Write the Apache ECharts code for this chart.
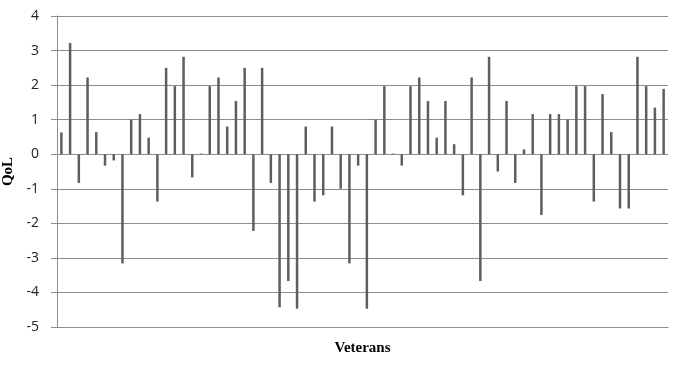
<!DOCTYPE html>
<html>
<head>
<meta charset="utf-8">
<script src="https://cdn.jsdelivr.net/npm/echarts@6/dist/echarts.min.js"></script>
<style>
  html, body { margin: 0; padding: 0; background: #fff; }
  #chart { width: 682px; height: 367px; }
</style>
</head>
<body>
<div id="chart"></div>
<script>
// QoL score per veteran
const qol = [
  0.63, 3.22, -0.83, 2.22, 0.64, -0.33, -0.18, -3.16, 1.0, 1.16,
  0.48, -1.37, 2.5, 1.97, 2.82, -0.67, 0.02, 1.97, 2.22, 0.8,
  1.54, 2.5, -2.22, 2.5, -0.83, -4.43, -3.67, -4.47, 0.8, -1.37,
  -1.19, 0.8, -1.0, -3.16, -0.33, -4.47, 1.0, 1.97, 0.02, -0.33,
  1.97, 2.22, 1.54, 0.48, 1.54, 0.29, -1.19, 2.22, -3.67, 2.82,
  -0.5, 1.54, -0.83, 0.14, 1.16, -1.76, 1.16, 1.16, 1.0, 1.97,
  1.97, -1.37, 1.74, 0.64, -1.57, -1.57, 2.82, 1.97, 1.35, 1.89
];
const veterans = qol.map((v, i) => String(i + 1));
const yTicks = { min: -5, max: 4, step: 1 };

const chart = echarts.init(document.getElementById('chart'));

chart.setOption({
  animation: false,
  grid: { left: 57, right: 14, top: 16, bottom: 40, containLabel: false, outerBoundsMode: 'none' },
  xAxis: {
    type: 'category',
    data: veterans,
    name: 'Veterans',
    nameLocation: 'middle',
    nameGap: 14,
    nameTextStyle: { fontFamily: 'Liberation Serif', fontWeight: 'bold', fontSize: 15, color: '#000' },
    axisLine: { onZero: false, lineStyle: { color: '#8c8c8c', width: 1 } },
    axisTick: { show: false },
    axisLabel: { show: false },
    splitLine: { show: false }
  },
  yAxis: {
    type: 'value',
    min: yTicks.min,
    max: yTicks.max,
    interval: yTicks.step,
    name: 'QoL',
    nameLocation: 'middle',
    nameGap: 40,
    nameRotate: 90,
    nameTextStyle: { fontFamily: 'Liberation Serif', fontWeight: 'bold', fontSize: 15, color: '#000' },
    axisLine: { show: true, lineStyle: { color: '#8c8c8c', width: 1 } },
    axisTick: { show: true, length: 6, lineStyle: { color: '#8c8c8c' } },
    axisLabel: { fontFamily: 'Open Sans', fontSize: 14, color: '#222', margin: 18 },
    splitLine: { lineStyle: { color: '#8c8c8c', width: 1 } }
  },
  series: [{
    type: 'bar',
    data: qol,
    barWidth: 2.5,
    itemStyle: { color: '#5e5e5e' }
  }]
});
</script>
</body>
</html>
